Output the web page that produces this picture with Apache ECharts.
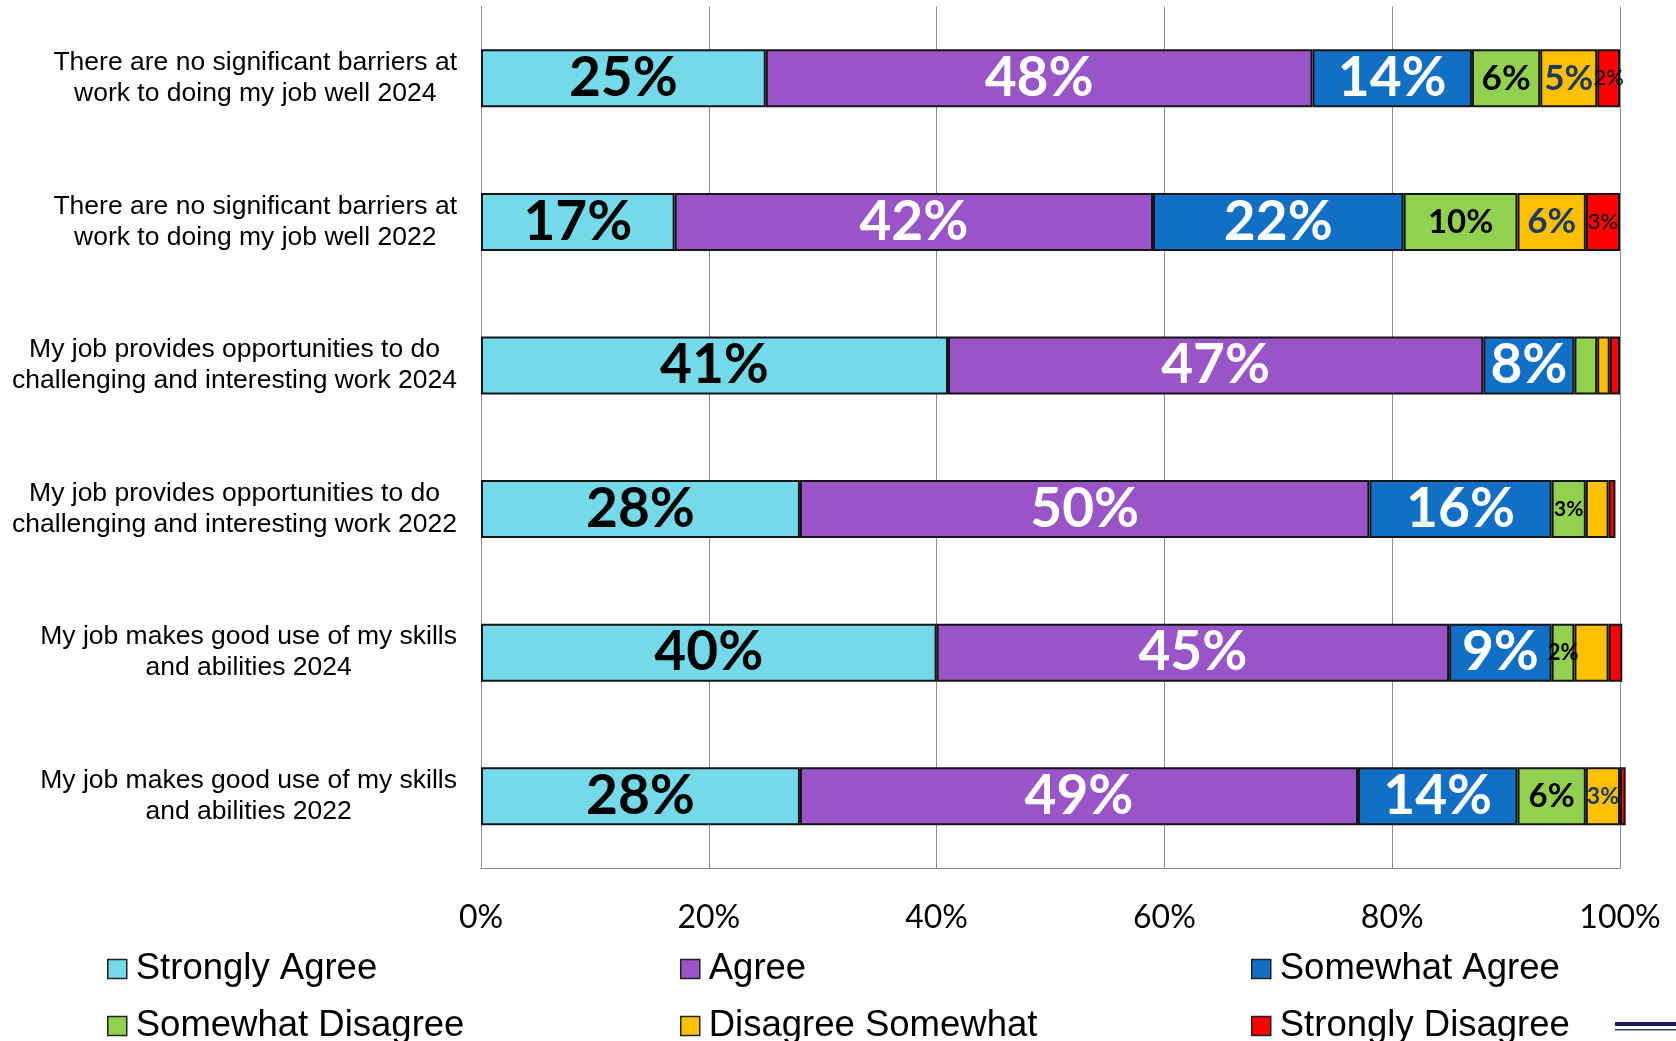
<!DOCTYPE html>
<html>
<head>
<meta charset="utf-8">
<title>Job experience survey 2022 vs 2024</title>
<script src="https://cdn.jsdelivr.net/npm/echarts@6/dist/echarts.min.js"></script>
<style>
  html, body { margin: 0; padding: 0; background: #fff; }
  #chart { width: 1676px; height: 1041px; }
</style>
</head>
<body>
<div id="chart"></div>
<script>
// Survey statements, top to bottom
const categories = [
  'There are no significant barriers at\nwork to doing my job well 2024',
  'There are no significant barriers at\nwork to doing my job well 2022',
  'My job provides opportunities to do\nchallenging and interesting work 2024',
  'My job provides opportunities to do\nchallenging and interesting work 2022',
  'My job makes good use of my skills\nand abilities 2024',
  'My job makes good use of my skills\nand abilities 2022'
];

// Response shares (%) per statement
const stronglyAgree    = [25, 17, 41, 28, 40, 28];
const agree            = [48, 42, 47, 50, 45, 49];
const somewhatAgree    = [14, 22, 8, 16, 9, 14];
const somewhatDisagree = [6, 10, 2, 3, 2, 6];
const disagreeSomewhat = [5, 6, 1.1, 2, 3, 3];
const stronglyDisagree = [2, 3, 0.9, 0.6, 1.2, 0.5];

const xTicks = [0, 20, 40, 60, 80, 100];

// Label font size per bar segment (0 = no label)
const bigSize = [55, 55, 55, 55, 55, 55];
const sdSize  = [35, 33, 0, 21, 22, 33];
const dsSize  = [35, 35, 0, 0, 0, 23];
const stdSize = [22, 22, 0, 0, 0, 0];

const seriesDefs = [
  { name: 'Strongly Agree',    values: stronglyAgree,    color: '#74D9E8', text: '#000000', sizes: bigSize, weight: 'bold' },
  { name: 'Agree',             values: agree,            color: '#9955C8', text: '#ffffff', sizes: bigSize, weight: 'bold' },
  { name: 'Somewhat Agree',    values: somewhatAgree,    color: '#1170C6', text: '#ffffff', sizes: bigSize, weight: 'bold' },
  { name: 'Somewhat Disagree', values: somewhatDisagree, color: '#92D050', text: '#000000', sizes: sdSize,  weight: 'bold' },
  { name: 'Disagree Somewhat', values: disagreeSomewhat, color: '#FFC000', text: '#1F3864', sizes: dsSize,  weight: 'bold' },
  { name: 'Strongly Disagree', values: stronglyDisagree, color: '#FF0000', text: '#000000', sizes: stdSize, weight: 'normal' }
];

const series = seriesDefs.map(d => ({
  name: d.name,
  type: 'bar',
  stack: 'total',
  barWidth: 58,
  clip: false,
  itemStyle: { color: d.color, borderColor: '#151515', borderWidth: 2 },
  label: {
    show: true,
    position: 'inside',
    fontFamily: 'Lato',
    fontWeight: d.weight,
    color: d.text,
    formatter: p => p.value + '%'
  },
  emphasis: { disabled: true },
  data: d.values.map((v, i) => ({
    value: v,
    label: { show: d.sizes[i] > 0, fontSize: d.sizes[i] || 12 }
  }))
}));

// Legend laid out as a 3 x 2 grid
const legendPos = [
  [107, 949], [680, 949], [1251, 949],
  [107, 1006], [680, 1006], [1251, 1006]
];
const legends = seriesDefs.map((d, i) => ({
  data: [d.name],
  left: legendPos[i][0],
  top: legendPos[i][1],
  orient: 'horizontal',
  padding: 0,
  itemGap: 0,
  itemWidth: 19,
  itemHeight: 19,
  icon: 'rect',
  selectedMode: false,
  itemStyle: { borderColor: '#222', borderWidth: 1.5 },
  textStyle: {
    fontFamily: 'Liberation Sans, Arial, sans-serif',
    fontSize: 36.5,
    lineHeight: 40,
    color: '#000',
    padding: [0, 0, 0, 4]
  }
}));

const chart = echarts.init(document.getElementById('chart'), null, { renderer: 'canvas' });
chart.setOption({
  animation: false,
  backgroundColor: '#ffffff',
  grid: {
    left: 481,
    right: 56,
    top: 6.5,
    bottom: 173,
    containLabel: false,
    outerBoundsMode: 'none'
  },
  legend: legends,
  xAxis: {
    type: 'value',
    min: xTicks[0],
    max: xTicks[xTicks.length - 1],
    interval: xTicks[1] - xTicks[0],
    axisLine: { show: true, lineStyle: { color: '#8c8c8c', width: 1 } },
    axisTick: { show: false },
    splitLine: { show: true, lineStyle: { color: '#8c8c8c', width: 1 } },
    axisLabel: {
      formatter: '{value}%',
      fontFamily: 'Lato',
      fontSize: 32,
      lineHeight: 38,
      color: '#000',
      margin: 31
    }
  },
  yAxis: {
    type: 'category',
    inverse: true,
    data: categories,
    axisLine: { show: true, lineStyle: { color: '#8c8c8c', width: 1 } },
    axisTick: { show: false },
    splitLine: { show: false },
    axisLabel: {
      margin: 24,
      align: 'right',
      formatter: v => v.split('\n').map(l => '{c|' + l + '}').join('\n'),
      rich: {
        c: {
          align: 'center',
          fontFamily: 'Liberation Sans, Arial, sans-serif',
          fontSize: 26.5,
          lineHeight: 31,
          color: '#000'
        }
      }
    }
  },
  graphic: [
    { type: 'rect', shape: { x: 1615, y: 1022, width: 61, height: 4 }, style: { fill: '#1c1c5e' }, silent: true },
    { type: 'rect', shape: { x: 1615, y: 1029, width: 61, height: 1.5 }, style: { fill: '#3a3a7a' }, silent: true }
  ],
  series: series
});
</script>
</body>
</html>
